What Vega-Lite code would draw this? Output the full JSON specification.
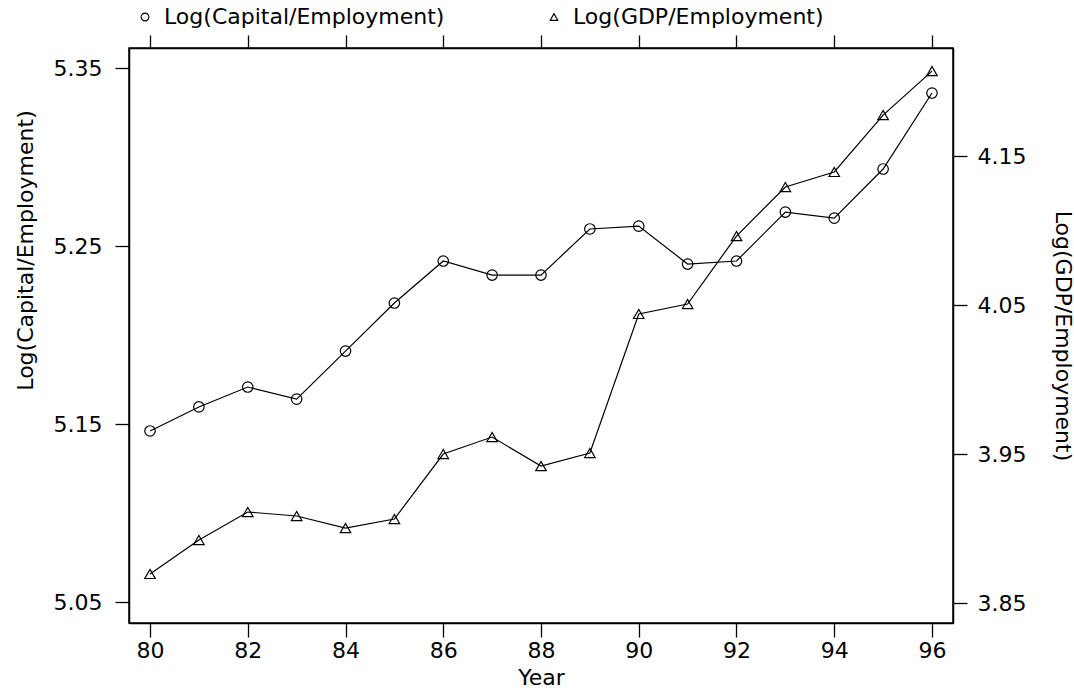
{
  "$schema": "https://vega.github.io/schema/vega-lite/v6.json",
  "autosize": {"type": "none"},
  "width": 824,
  "height": 575,
  "padding": {"left": 129, "top": 48, "right": 121, "bottom": 67},
  "background": "white",
  "config": {
    "view": {"stroke": "black", "strokeWidth": 1.5},
    "font": "DejaVu Sans",
    "axis": {
      "domainColor": "black", "domainWidth": 1.5,
      "tickColor": "black", "tickWidth": 1.3, "tickSize": 14,
      "labelColor": "black", "labelFont": "DejaVu Sans", "labelFontSize": 22, "labelFontWeight": "normal",
      "titleColor": "black", "titleFont": "DejaVu Sans", "titleFontSize": 22, "titleFontWeight": "normal",
      "grid": false
    },
    "legend": {"labelFont": "DejaVu Sans", "labelFontSize": 22, "labelColor": "black", "labelLimit": 0}
  },
  "data": {"values": [
    {"year": 80, "capital": 5.1461, "gdp": 3.8695},
    {"year": 81, "capital": 5.1596, "gdp": 3.8923},
    {"year": 82, "capital": 5.1708, "gdp": 3.9111},
    {"year": 83, "capital": 5.1640, "gdp": 3.9084},
    {"year": 84, "capital": 5.1910, "gdp": 3.9003},
    {"year": 85, "capital": 5.2180, "gdp": 3.9064},
    {"year": 86, "capital": 5.2416, "gdp": 3.9500},
    {"year": 87, "capital": 5.2337, "gdp": 3.9614},
    {"year": 88, "capital": 5.2337, "gdp": 3.9419},
    {"year": 89, "capital": 5.2596, "gdp": 3.9507},
    {"year": 90, "capital": 5.2612, "gdp": 4.0440},
    {"year": 91, "capital": 5.2399, "gdp": 4.0507},
    {"year": 92, "capital": 5.2416, "gdp": 4.0963},
    {"year": 93, "capital": 5.2691, "gdp": 4.1292},
    {"year": 94, "capital": 5.2657, "gdp": 4.1393},
    {"year": 95, "capital": 5.2933, "gdp": 4.1775},
    {"year": 96, "capital": 5.3360, "gdp": 4.2070}
  ]},
  "layer": [
    {
      "encoding": {
        "x": {"field": "year", "type": "quantitative",
              "scale": {"domain": [79.57, 96.43], "nice": false, "zero": false},
              "axis": {"orient": "bottom", "title": "Year", "values": [80, 82, 84, 86, 88, 90, 92, 94, 96], "format": "d",
                       "labelPadding": 3, "titleY": 54, "titleBaseline": "middle"}},
        "y": {"field": "capital", "type": "quantitative",
              "scale": {"domain": [5.0382, 5.3613], "nice": false, "zero": false},
              "axis": {"orient": "left", "title": "Log(Capital/Employment)", "values": [5.05, 5.15, 5.25, 5.35], "format": ".2f",
                       "labelPadding": 13, "titleX": -104, "titleY": 202, "titleBaseline": "middle", "titleAnchor": null}}
      },
      "layer": [
        {"mark": {"type": "line", "color": "black", "strokeWidth": 1.2}},
        {"mark": {"type": "point", "shape": "circle", "filled": false, "stroke": "black", "strokeWidth": 1.2, "size": 110, "opacity": 1},
         "encoding": {"shape": {"datum": "Log(Capital/Employment)", "type": "nominal",
                                "scale": {"domain": ["Log(Capital/Employment)", "Log(GDP/Employment)"], "range": ["circle", "triangle-up"]},
                                "legend": {"title": null, "orient": "none", "legendX": 5, "legendY": -42, "direction": "horizontal",
                                           "columns": 2, "columnPadding": 98, "symbolSize": 60, "symbolStrokeColor": "black",
                                           "symbolFillColor": "transparent", "symbolStrokeWidth": 1.1, "labelOffset": 8, "labelLimit": 0}}}}
      ]
    },
    {
      "encoding": {
        "x": {"field": "year", "type": "quantitative",
              "axis": {"orient": "top", "title": null, "labels": false, "values": [80, 82, 84, 86, 88, 90, 92, 94, 96], "tickSize": 13}},
        "y": {"field": "gdp", "type": "quantitative",
              "scale": {"domain": [3.8366, 4.2225], "nice": false, "zero": false},
              "axis": {"orient": "right", "title": "Log(GDP/Employment)", "values": [3.85, 3.95, 4.05, 4.15], "format": ".2f",
                       "labelPadding": 10, "titleX": 109, "titleBaseline": "middle"}}
      },
      "layer": [
        {"mark": {"type": "line", "color": "black", "strokeWidth": 1.2}},
        {"mark": {"type": "point", "shape": "triangle-up", "filled": false, "stroke": "black", "strokeWidth": 1.2, "size": 110, "opacity": 1},
         "encoding": {"shape": {"datum": "Log(GDP/Employment)", "type": "nominal"}}}
      ]
    }
  ],
  "resolve": {"scale": {"y": "independent"}, "axis": {"x": "independent", "y": "independent"}}
}
